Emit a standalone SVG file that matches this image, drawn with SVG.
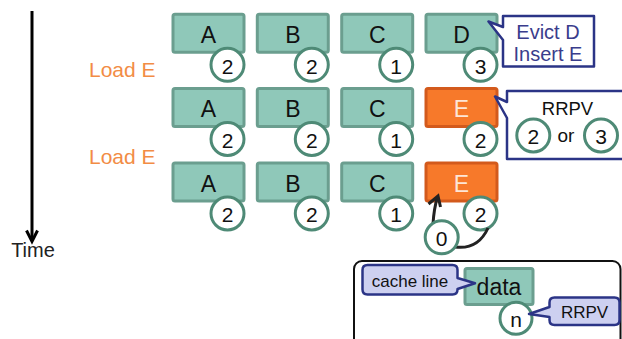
<svg xmlns="http://www.w3.org/2000/svg" width="622" height="339" viewBox="0 0 622 339">
  <style>
    text { font-family: "Liberation Sans", Arial, sans-serif; }
    .line { fill: #8fc8b9; stroke: #6b9e8f; stroke-width: 3; }
    .new { fill: #f7792a; stroke: #d35a1c; stroke-width: 3; }
    .tag { font-size: 23px; fill: #111; text-anchor: middle; }
    .tagw { font-size: 23px; fill: #fde6d6; text-anchor: middle; }
    .rr { fill: #fff; stroke: #4e8a76; stroke-width: 3; }
    .num { font-size: 21px; fill: #111; text-anchor: middle; }
    .load { font-size: 21px; fill: #f28c45; }
    .note { fill: #fff; stroke: #2b3486; stroke-width: 2.5; stroke-linejoin: round; }
    .noteL { fill: #cdd0f0; stroke: #2b3486; stroke-width: 2.5; stroke-linejoin: round; }
    .nt { fill: #3a3d8c; text-anchor: middle; }
  </style>

  <!-- time axis -->
  <g id="time-axis">
    <line x1="32" y1="11" x2="32" y2="241" stroke="#000" stroke-width="3"/>
    <path d="M26.5,230.5 L32,241.5 L37.5,230.5" fill="none" stroke="#000" stroke-width="3" stroke-linejoin="miter"/>
    <text x="33" y="256.5" font-size="20" fill="#222" text-anchor="middle">Time</text>
  </g>

  <g id="load-labels">
    <text class="load" x="89" y="77">Load E</text>
    <text class="load" x="89" y="164">Load E</text>
  </g>

  <!-- row 1 -->
  <g id="r1-A"><rect class="line" x="173" y="14.3" width="71" height="38" rx="2"/><text class="tag" x="208.5" y="42.7">A</text>
    <circle class="rr" cx="227.5" cy="64.8" r="16.5"/><text class="num" x="227.5" y="73.5">2</text></g>
  <g id="r1-B"><rect class="line" x="257.3" y="14.3" width="71" height="38" rx="2"/><text class="tag" x="292.8" y="42.7">B</text>
    <circle class="rr" cx="311.8" cy="64.8" r="16.5"/><text class="num" x="311.8" y="73.5">2</text></g>
  <g id="r1-C"><rect class="line" x="341.7" y="14.3" width="71" height="38" rx="2"/><text class="tag" x="377.2" y="42.7">C</text>
    <circle class="rr" cx="396.2" cy="64.8" r="16.5"/><text class="num" x="396.2" y="73.5">1</text></g>
  <g id="r1-D"><rect class="line" x="426" y="14.3" width="71" height="38" rx="2"/><text class="tag" x="461.5" y="42.7">D</text>
    <circle class="rr" cx="480.5" cy="64.8" r="16.5"/><text class="num" x="480.5" y="73.5">3</text></g>

  <!-- row 2 -->
  <g id="r2-A"><rect class="line" x="173" y="88.5" width="71" height="38" rx="2"/><text class="tag" x="208.5" y="117">A</text>
    <circle class="rr" cx="227.5" cy="139" r="16.5"/><text class="num" x="227.5" y="147.7">2</text></g>
  <g id="r2-B"><rect class="line" x="257.3" y="88.5" width="71" height="38" rx="2"/><text class="tag" x="292.8" y="117">B</text>
    <circle class="rr" cx="311.8" cy="139" r="16.5"/><text class="num" x="311.8" y="147.7">2</text></g>
  <g id="r2-C"><rect class="line" x="341.7" y="88.5" width="71" height="38" rx="2"/><text class="tag" x="377.2" y="117">C</text>
    <circle class="rr" cx="396.2" cy="139" r="16.5"/><text class="num" x="396.2" y="147.7">1</text></g>
  <g id="r2-E"><rect class="new" x="426" y="88.5" width="71" height="38" rx="2"/><text class="tagw" x="461.5" y="117">E</text>
    <circle class="rr" cx="480.5" cy="139" r="16.5"/><text class="num" x="480.5" y="147.7">2</text></g>

  <!-- row 3 -->
  <g id="r3-A"><rect class="line" x="173" y="163" width="71" height="38" rx="2"/><text class="tag" x="208.5" y="191.5">A</text>
    <circle class="rr" cx="227.5" cy="213.5" r="16.5"/><text class="num" x="227.5" y="222.2">2</text></g>
  <g id="r3-B"><rect class="line" x="257.3" y="163" width="71" height="38" rx="2"/><text class="tag" x="292.8" y="191.5">B</text>
    <circle class="rr" cx="311.8" cy="213.5" r="16.5"/><text class="num" x="311.8" y="222.2">2</text></g>
  <g id="r3-C"><rect class="line" x="341.7" y="163" width="71" height="38" rx="2"/><text class="tag" x="377.2" y="191.5">C</text>
    <circle class="rr" cx="396.2" cy="213.5" r="16.5"/><text class="num" x="396.2" y="222.2">1</text></g>
  <g id="r3-E"><rect class="new" x="426" y="163" width="71" height="38" rx="2"/><text class="tagw" x="461.5" y="191.5">E</text>
    <circle class="rr" cx="480.5" cy="213.5" r="16.5"/><text class="num" x="480.5" y="222.2">2</text></g>

  <!-- connectors: RRPV reset loop 2 -> 0 -> E -->
  <g id="connectors">
    <path d="M488,228 Q478,250 455,247 Q432,243 433,224 Q434,208 437.5,197" fill="none" stroke="#222" stroke-width="3"/>
    <path d="M428.5,204 L438,196 L440.5,207" fill="none" stroke="#222" stroke-width="3" stroke-linejoin="miter"/>
  </g>

  <g id="r3-zero">
    <circle class="rr" cx="441.7" cy="237.3" r="16.5"/><text class="num" x="441.7" y="246">0</text></g>

  <!-- callouts -->
  <g id="note-evict">
    <path class="note" d="M503,16 H594 V66.5 H503 V40 L488.5,21.5 L503,27 Z"/>
    <text class="nt" x="548" y="38.5" font-size="20">Evict D</text>
    <text class="nt" x="548" y="61" font-size="20">Insert E</text>
  </g>
  <g id="note-rrpv">
    <path class="note" d="M507,91 H630 V159 H507 V118 L495,96.5 L507,102 Z"/>
    <text x="567.5" y="115" font-size="18.5" fill="#111" text-anchor="middle">RRPV</text>
    <circle class="rr" cx="533.3" cy="135.5" r="16.5"/><text class="num" x="533.3" y="144.2">2</text>
    <text x="566" y="142" font-size="19" fill="#111" text-anchor="middle">or</text>
    <circle class="rr" cx="601" cy="135.5" r="16.5"/><text class="num" x="601" y="144.2">3</text>
  </g>

  <!-- legend -->
  <g id="legend">
    <rect x="354" y="261" width="266.5" height="100" rx="8" fill="#fff" stroke="#111" stroke-width="2"/>
    <g id="legend-data">
      <rect class="line" x="465" y="268.5" width="68" height="36" rx="2"/>
      <text x="499" y="294.5" font-size="23" fill="#111" text-anchor="middle">data</text>
    </g>
    <g id="legend-rrpv">
      <circle class="rr" cx="516" cy="318.3" r="16"/>
      <text class="num" x="516" y="326.5">n</text>
    </g>
    <g id="legend-cacheline">
      <path class="noteL" d="M367.5,265 H452.5 Q457.5,265 457.5,270 V278 L475,283.3 L457.5,289 V289.5 Q457.5,294.5 452.5,294.5 H367.5 Q362.5,294.5 362.5,289.5 V270 Q362.5,265 367.5,265 Z"/>
      <text x="410" y="286.5" font-size="17" fill="#111" text-anchor="middle">cache line</text>
    </g>
    <g id="legend-rrpv-note">
      <path class="noteL" d="M554.5,297.5 H614.5 Q619.5,297.5 619.5,302.5 V320 Q619.5,325 614.5,325 H554.5 Q549.5,325 549.5,320 V317 L529,314 L549.5,307 V302.5 Q549.5,297.5 554.5,297.5 Z"/>
      <text x="584.5" y="318" font-size="17" fill="#111" text-anchor="middle">RRPV</text>
    </g>
  </g>
</svg>
